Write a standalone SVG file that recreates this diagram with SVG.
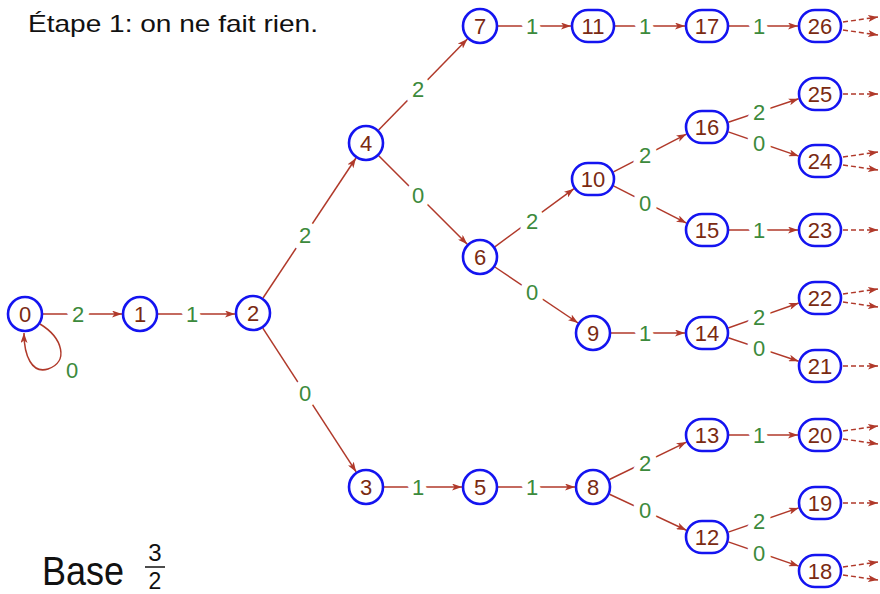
<svg xmlns="http://www.w3.org/2000/svg" width="880" height="594" viewBox="0 0 880 594">
<style>
.n circle,.n rect{fill:#fff;stroke:#1414f0;stroke-width:2.6}
.n text{font-family:"Liberation Sans",Arial,sans-serif;font-size:22px;fill:#7a2a12;text-anchor:middle}
.e line,.e path{stroke:#b0392a;stroke-width:1.5;fill:none}
.e .d{stroke-dasharray:5 3}
.lb text{font-family:"Liberation Sans",Arial,sans-serif;font-size:22px;fill:#3c8a3c;text-anchor:middle;stroke:#fff;stroke-width:13;paint-order:stroke;stroke-linejoin:round}
.t{font-family:"Liberation Sans",Arial,sans-serif;fill:#111}
</style>
<defs>
<marker id="a" markerUnits="userSpaceOnUse" markerWidth="10" markerHeight="7" refX="10" refY="3.5" orient="auto">
<path d="M0,0 L10,3.5 L0,7 L2.5,3.5 Z" fill="#b0392a"/>
</marker>
</defs>
<rect width="880" height="594" fill="#fff"/>
<text class="t" x="28" y="32" font-size="24" textLength="290" lengthAdjust="spacingAndGlyphs">Étape 1: on ne fait rien.</text>
<text class="t" x="42" y="585" font-size="41" textLength="82" lengthAdjust="spacingAndGlyphs">Base</text>
<text class="t" x="155" y="561" font-size="24" text-anchor="middle">3</text>
<line x1="145" y1="567" x2="165" y2="567" stroke="#111" stroke-width="1.5"/>
<text class="t" x="155" y="589" font-size="23" text-anchor="middle">2</text>
<g id="connectors" class="e">
<path d="M40,324 C63,338 69,362 48,369 C32,374 24,356 24,333" marker-end="url(#a)"/>
<line x1="43" y1="314" x2="122" y2="314" marker-end="url(#a)"/>
<line x1="158" y1="314" x2="235" y2="314" marker-end="url(#a)"/>
<line x1="263" y1="298" x2="356" y2="158" marker-end="url(#a)"/>
<line x1="262.8" y1="328.1" x2="356.2" y2="471.9" marker-end="url(#a)"/>
<line x1="378.6" y1="130.1" x2="467.4" y2="38.9" marker-end="url(#a)"/>
<line x1="378.7" y1="155.7" x2="467.3" y2="244.3" marker-end="url(#a)"/>
<line x1="384" y1="487" x2="462" y2="487" marker-end="url(#a)"/>
<line x1="498" y1="26" x2="571" y2="26" marker-end="url(#a)"/>
<line x1="494.8" y1="246.8" x2="574" y2="188.7" marker-end="url(#a)"/>
<line x1="494.9" y1="267" x2="578.1" y2="323" marker-end="url(#a)"/>
<line x1="498" y1="487" x2="575" y2="487" marker-end="url(#a)"/>
<line x1="615" y1="26" x2="685" y2="26" marker-end="url(#a)"/>
<line x1="613.5" y1="171.9" x2="686.5" y2="134.1" marker-end="url(#a)"/>
<line x1="613.5" y1="185.9" x2="686.5" y2="223.1" marker-end="url(#a)"/>
<line x1="611" y1="333" x2="685" y2="333" marker-end="url(#a)"/>
<line x1="609.4" y1="479.5" x2="686.5" y2="442.1" marker-end="url(#a)"/>
<line x1="609.5" y1="494.2" x2="686.4" y2="530.2" marker-end="url(#a)"/>
<line x1="729" y1="26" x2="798" y2="26" marker-end="url(#a)"/>
<line x1="728.3" y1="122.2" x2="798.7" y2="98.8" marker-end="url(#a)"/>
<line x1="728.3" y1="131.9" x2="798.7" y2="156.1" marker-end="url(#a)"/>
<line x1="729" y1="230" x2="798" y2="230" marker-end="url(#a)"/>
<line x1="728.2" y1="328" x2="798.8" y2="303" marker-end="url(#a)"/>
<line x1="728.3" y1="337.8" x2="798.7" y2="361.2" marker-end="url(#a)"/>
<line x1="729" y1="435" x2="798" y2="435" marker-end="url(#a)"/>
<line x1="728.3" y1="532.1" x2="798.7" y2="507.9" marker-end="url(#a)"/>
<line x1="728.3" y1="541.9" x2="798.7" y2="566.1" marker-end="url(#a)"/>
<line class="d" x1="843" y1="22" x2="878" y2="17" marker-end="url(#a)"/>
<line class="d" x1="843" y1="30" x2="878" y2="35" marker-end="url(#a)"/>
<line class="d" x1="843" y1="94" x2="878" y2="94" marker-end="url(#a)"/>
<line class="d" x1="843" y1="157" x2="878" y2="152" marker-end="url(#a)"/>
<line class="d" x1="843" y1="165" x2="878" y2="170" marker-end="url(#a)"/>
<line class="d" x1="843" y1="230" x2="878" y2="230" marker-end="url(#a)"/>
<line class="d" x1="843" y1="294" x2="878" y2="289" marker-end="url(#a)"/>
<line class="d" x1="843" y1="302" x2="878" y2="307" marker-end="url(#a)"/>
<line class="d" x1="843" y1="366" x2="878" y2="366" marker-end="url(#a)"/>
<line class="d" x1="843" y1="431" x2="878" y2="426" marker-end="url(#a)"/>
<line class="d" x1="843" y1="439" x2="878" y2="444" marker-end="url(#a)"/>
<line class="d" x1="843" y1="503" x2="878" y2="503" marker-end="url(#a)"/>
<line class="d" x1="843" y1="567" x2="878" y2="562" marker-end="url(#a)"/>
<line class="d" x1="843" y1="575" x2="878" y2="580" marker-end="url(#a)"/>
</g>
<g id="labels" class="lb">
<text x="72" y="378">0</text>
<text x="78" y="322">2</text>
<text x="192" y="322">1</text>
<text x="305" y="243">2</text>
<text x="305" y="401">0</text>
<text x="418" y="97">2</text>
<text x="418" y="203">0</text>
<text x="418" y="495">1</text>
<text x="532" y="34">1</text>
<text x="532" y="229">2</text>
<text x="532" y="300">0</text>
<text x="532" y="495">1</text>
<text x="645" y="34">1</text>
<text x="645" y="163">2</text>
<text x="645" y="211">0</text>
<text x="645" y="341">1</text>
<text x="645" y="471">2</text>
<text x="645" y="518">0</text>
<text x="759" y="34">1</text>
<text x="759" y="120">2</text>
<text x="759" y="151">0</text>
<text x="759" y="238">1</text>
<text x="759" y="325">2</text>
<text x="759" y="356">0</text>
<text x="759" y="443">1</text>
<text x="759" y="529">2</text>
<text x="759" y="561">0</text>
</g>
<g id="n0" class="n"><circle cx="25" cy="314" r="17"/><text x="25" y="322">0</text></g>
<g id="n1" class="n"><circle cx="140" cy="314" r="17"/><text x="140" y="322">1</text></g>
<g id="n2" class="n"><circle cx="253" cy="313" r="17"/><text x="253" y="321">2</text></g>
<g id="n3" class="n"><circle cx="366" cy="487" r="17"/><text x="366" y="495">3</text></g>
<g id="n4" class="n"><circle cx="366" cy="143" r="17"/><text x="366" y="151">4</text></g>
<g id="n5" class="n"><circle cx="480" cy="487" r="17"/><text x="480" y="495">5</text></g>
<g id="n6" class="n"><circle cx="480" cy="257" r="17"/><text x="480" y="265">6</text></g>
<g id="n7" class="n"><circle cx="480" cy="26" r="17"/><text x="480" y="34">7</text></g>
<g id="n8" class="n"><circle cx="593" cy="487" r="17"/><text x="593" y="495">8</text></g>
<g id="n9" class="n"><circle cx="593" cy="333" r="17"/><text x="593" y="341">9</text></g>
<g id="n10" class="n"><rect x="572" y="163" width="42" height="32" rx="16"/><text x="593" y="187">10</text></g>
<g id="n11" class="n"><rect x="572" y="10" width="42" height="32" rx="16"/><text x="593" y="34">11</text></g>
<g id="n12" class="n"><rect x="686" y="521" width="42" height="32" rx="16"/><text x="707" y="545">12</text></g>
<g id="n13" class="n"><rect x="686" y="419" width="42" height="32" rx="16"/><text x="707" y="443">13</text></g>
<g id="n14" class="n"><rect x="686" y="317" width="42" height="32" rx="16"/><text x="707" y="341">14</text></g>
<g id="n15" class="n"><rect x="686" y="214" width="42" height="32" rx="16"/><text x="707" y="238">15</text></g>
<g id="n16" class="n"><rect x="686" y="111" width="42" height="32" rx="16"/><text x="707" y="135">16</text></g>
<g id="n17" class="n"><rect x="686" y="10" width="42" height="32" rx="16"/><text x="707" y="34">17</text></g>
<g id="n18" class="n"><rect x="799" y="555" width="42" height="32" rx="16"/><text x="820" y="579">18</text></g>
<g id="n19" class="n"><rect x="799" y="487" width="42" height="32" rx="16"/><text x="820" y="511">19</text></g>
<g id="n20" class="n"><rect x="799" y="419" width="42" height="32" rx="16"/><text x="820" y="443">20</text></g>
<g id="n21" class="n"><rect x="799" y="350" width="42" height="32" rx="16"/><text x="820" y="374">21</text></g>
<g id="n22" class="n"><rect x="799" y="282" width="42" height="32" rx="16"/><text x="820" y="306">22</text></g>
<g id="n23" class="n"><rect x="799" y="214" width="42" height="32" rx="16"/><text x="820" y="238">23</text></g>
<g id="n24" class="n"><rect x="799" y="145" width="42" height="32" rx="16"/><text x="820" y="169">24</text></g>
<g id="n25" class="n"><rect x="799" y="78" width="42" height="32" rx="16"/><text x="820" y="102">25</text></g>
<g id="n26" class="n"><rect x="799" y="10" width="42" height="32" rx="16"/><text x="820" y="34">26</text></g>
</svg>
